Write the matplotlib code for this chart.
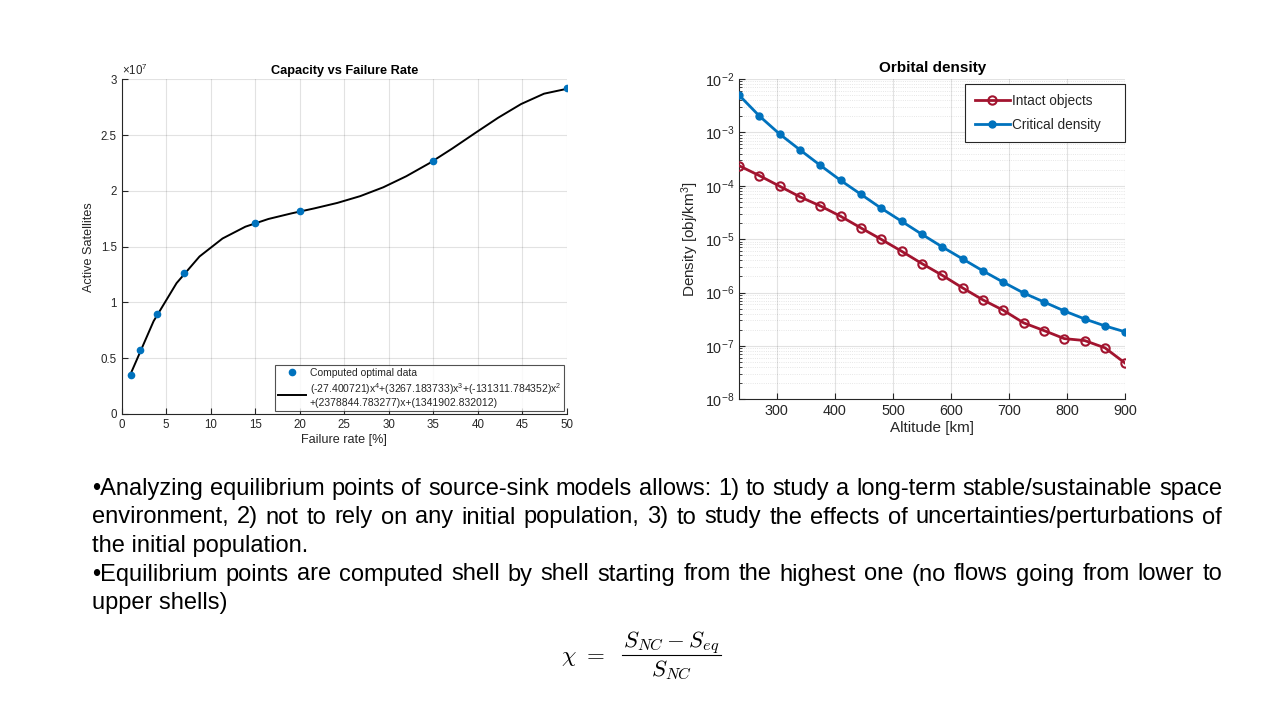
import numpy as np
import matplotlib
matplotlib.use('Agg')
import matplotlib.pyplot as plt
from matplotlib.lines import Line2D
from matplotlib.ticker import FuncFormatter, LogLocator, NullFormatter

plt.rcParams['font.family'] = ['Liberation Sans', 'DejaVu Sans']
plt.rcParams['mathtext.fontset'] = 'custom'
plt.rcParams['mathtext.rm'] = 'Liberation Sans'
plt.rcParams['mathtext.it'] = 'Liberation Sans:italic'
plt.rcParams['mathtext.bf'] = 'Liberation Sans:bold'

# ---- left chart: capacity vs failure rate ----
failure_rate = [1, 2, 4, 7, 15, 20, 35, 50]
active_sats = [3.46e6, 5.70e6, 8.96e6, 12.60e6, 17.16e6, 18.18e6, 22.72e6, 29.19e6]

# polynomial fit curve as drawn (20 samples)
fit_x = [1.00, 3.58, 6.16, 8.74, 11.32, 13.89, 16.47, 19.05, 21.63, 24.21,
         26.79, 29.37, 31.95, 34.53, 37.11, 39.68, 42.26, 44.84, 47.42, 50.00]
fit_y = [3.59e6, 8.32e6, 11.73e6, 14.12e6, 15.73e6, 16.79e6, 17.48e6, 17.98e6, 18.43e6, 18.92e6,
         19.53e6, 20.32e6, 21.31e6, 22.47e6, 23.79e6, 25.18e6, 26.55e6, 27.78e6, 28.71e6, 29.15e6]
fit_label = ('(-27.400721)x$^4$+(3267.183733)x$^3$+(-131311.784352)x$^2$\n'
             '+(2378844.783277)x+(1341902.832012)')

# ---- right chart: orbital density ----
altitude = [235, 270, 305, 340, 375, 410, 445, 480, 515, 550,
            585, 620, 655, 690, 725, 760, 795, 830, 865, 900]
intact = [2.38e-4, 1.55e-4, 9.8e-5, 6.2e-5, 4.19e-5, 2.68e-5, 1.62e-5, 9.9e-6, 5.93e-6, 3.48e-6,
          2.1e-6, 1.22e-6, 7.27e-7, 4.65e-7, 2.7e-7, 1.94e-7, 1.37e-7, 1.26e-7, 9.2e-8, 4.73e-8]
critical = [5.0e-3, 2.03e-3, 9.3e-4, 4.7e-4, 2.41e-4, 1.26e-4, 6.9e-5, 3.78e-5, 2.16e-5, 1.23e-5,
            7.14e-6, 4.26e-6, 2.54e-6, 1.56e-6, 9.8e-7, 6.66e-7, 4.52e-7, 3.2e-7, 2.37e-7, 1.83e-7]

# ---- slide text ----
para_lines = [
    ("\u2022Analyzing equilibrium points of source-sink models allows: 1) to study a long-term stable/sustainable space", True),
    ("environment, 2) not to rely on any initial population, 3) to study the effects of uncertainties/perturbations of", True),
    ("the initial population.", False),
    ("\u2022Equilibrium points are computed shell by shell starting from the highest one (no flows going from lower to", True),
    ("upper shells)", False),
]
formula_lhs = r'$\chi\ =$'
formula_num = r'$S_{NC}-S_{eq}$'
formula_den = r'$S_{NC}$'

dark = '#262626'
W, H = 1280, 720
fig = plt.figure(figsize=(12.8, 7.2), dpi=100, facecolor='white')


def matlab_style(ax, size):
    for s in ['top', 'right']:
        ax.spines[s].set_visible(False)
    for s in ['left', 'bottom']:
        ax.spines[s].set_color(dark)
        ax.spines[s].set_linewidth(0.8)
    ax.tick_params(direction='in', colors=dark, labelsize=size, length=4, width=0.8)
    ax.grid(True, color=dark, alpha=0.13, linewidth=0.8)
    ax.set_axisbelow(True)


# left axes
ax1 = fig.add_axes([121.7 / W, 1 - 414 / H, (567 - 121.7) / W, (414 - 79.3) / H])
matlab_style(ax1, 8.3)
ax1.plot(failure_rate, active_sats, 'o', color='#0072BD', markersize=4.5, label='Computed optimal data', zorder=3)
ax1.plot(fit_x, fit_y, '-', color='black', linewidth=1.4, label=fit_label, zorder=2)
ax1.set_xlim(0, 50)
ax1.set_ylim(0, 3e7)
ax1.set_xticks(np.arange(0, 51, 5))
ax1.set_yticks(np.arange(0, 3.01e7, 0.5e7))
ax1.yaxis.set_major_formatter(FuncFormatter(lambda v, _: f'{v / 1e7:g}'))
ax1.text(0.0, 1.005, r'$\times 10^7$', transform=ax1.transAxes, fontsize=8.3, color=dark, va='bottom', ha='left')
ax1.set_title('Capacity vs Failure Rate', fontsize=9.2, fontweight='bold', color='black', pad=4)
ax1.set_xlabel('Failure rate [%]', fontsize=9.1, color=dark, labelpad=2)
ax1.set_ylabel('Active Satellites', fontsize=9.1, color=dark, labelpad=4)
leg1 = ax1.legend(loc='lower right', fontsize=7.5, frameon=True, fancybox=False, edgecolor=dark,
                  borderaxespad=0.25, handlelength=2.6, handletextpad=0.4, labelspacing=0.3,
                  borderpad=0.3, labelcolor=dark)
leg1.get_frame().set_linewidth(0.8)

# right axes
ax2 = fig.add_axes([739 / W, 1 - 399.3 / H, (1125.3 - 739) / W, (399.3 - 79) / H])
matlab_style(ax2, 10.4)
ax2.set_yscale('log')
ax2.plot(altitude, intact, '-', marker='o', color='#A2142F', linewidth=2, markersize=6,
         markerfacecolor='none', markeredgewidth=1.5, label='Intact objects', zorder=3)
ax2.plot(altitude, critical, '-', marker='o', color='#0072BD', linewidth=2, markersize=5,
         label='Critical density', zorder=3)
ax2.set_xlim(235, 900)
ax2.set_ylim(1e-8, 1e-2)
ax2.set_xticks(np.arange(300, 901, 100))
ax2.yaxis.set_major_locator(LogLocator(base=10, numticks=10))
ax2.yaxis.set_minor_locator(LogLocator(base=10, subs=np.arange(2, 10), numticks=20))
ax2.yaxis.set_minor_formatter(NullFormatter())
ax2.tick_params(axis='y', which='minor', direction='in', length=2, color=dark)
ax2.grid(True, which='minor', axis='y', color=dark, alpha=0.15, linewidth=0.6, linestyle=':')
ax2.set_title('Orbital density', fontsize=11, fontweight='bold', color='black', pad=5)
ax2.set_xlabel('Altitude [km]', fontsize=11, color=dark, labelpad=2)
ax2.set_ylabel('Density [obj/km$^3$]', fontsize=11, color=dark, labelpad=3)
leg2 = ax2.legend(loc='upper right', fontsize=9.8, frameon=True, fancybox=False, edgecolor=dark,
                  bbox_to_anchor=(1.0, 0.983), borderaxespad=0.0, handlelength=2.6, handletextpad=0.15,
                  labelspacing=0.75, borderpad=0.7, labelcolor=dark, framealpha=1)
for t in leg2.get_texts():
    t.set_text(t.get_text() + '    ')
leg2.get_frame().set_linewidth(0.8)

# bullet paragraph, justified like the slide
body_font = 'Liberation Sans'
body_size = 17
renderer = fig.canvas.get_renderer()
x_left, x_right = 92, 1222
baselines = [495, 523.5, 552, 580.5, 609]
for (line, justify), yb in zip(para_lines, baselines):
    y = 1 - yb / H
    if not justify:
        fig.text(x_left / W, y, line, fontsize=body_size, family=body_font, va='baseline', color='black')
        continue
    words = line.split(' ')
    texts = [fig.text(0, y, w, fontsize=body_size, family=body_font, va='baseline', color='black') for w in words]
    widths = [t.get_window_extent(renderer).width for t in texts]
    gap = (x_right - x_left - sum(widths)) / (len(words) - 1)
    x = x_left
    for t, w in zip(texts, widths):
        t.set_x(x / W)
        x += w + gap

# chi formula, built as a display-style fraction
fsz = 16.5
fig.text(605 / W, 1 - 662 / H, formula_lhs, fontsize=fsz, ha='right', va='baseline', math_fontfamily='cm')
num = fig.text(671.5 / W, 1 - 648 / H, formula_num, fontsize=fsz, ha='center', va='baseline', math_fontfamily='cm')
fig.text(671.5 / W, 1 - 676 / H, formula_den, fontsize=fsz, ha='center', va='baseline', math_fontfamily='cm')
nb = num.get_window_extent(renderer)
fig.add_artist(Line2D([(nb.x0 - 1) / W, (nb.x1 + 1) / W], [1 - 655 / H] * 2,
                      transform=fig.transFigure, color='black', linewidth=0.8))

fig.savefig('out.png', dpi=100, facecolor='white')
